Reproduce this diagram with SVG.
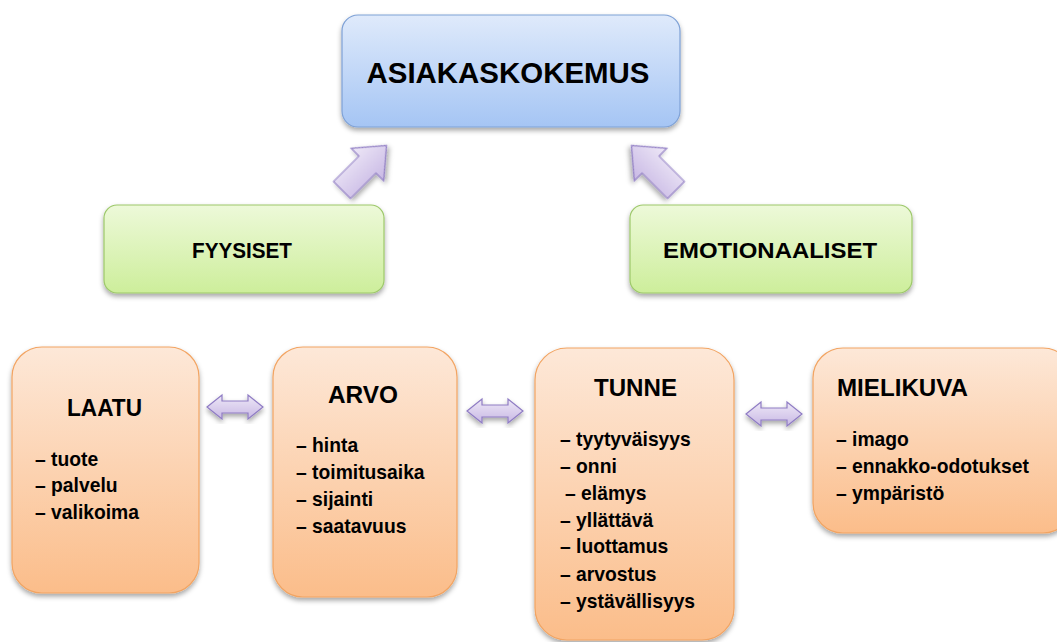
<svg xmlns="http://www.w3.org/2000/svg" width="1057" height="642" viewBox="0 0 1057 642">
<defs>
<linearGradient id="gBlue" x1="0" y1="0" x2="0" y2="1"><stop offset="0" stop-color="#dfeafb"/><stop offset="1" stop-color="#a5c5f4"/></linearGradient>
<linearGradient id="gGreen" x1="0" y1="0" x2="0" y2="1"><stop offset="0" stop-color="#edf9d9"/><stop offset="1" stop-color="#cdee9b"/></linearGradient>
<linearGradient id="gOrange" x1="0" y1="0" x2="0" y2="1"><stop offset="0" stop-color="#fde8d8"/><stop offset="1" stop-color="#fbbd8a"/></linearGradient>
<linearGradient id="gPurple" x1="0" y1="0" x2="0" y2="1"><stop offset="0" stop-color="#eee8f7"/><stop offset="1" stop-color="#c8b8e4"/></linearGradient>
<filter id="sh" x="-10%" y="-10%" width="120%" height="130%"><feDropShadow dx="0" dy="3" stdDeviation="2.5" flood-color="#000" flood-opacity="0.35"/></filter>
<path id="dbl" d="M0,0 L15,-12 L15,-6 L41,-6 L41,-12 L56,0 L41,12 L41,6 L15,6 L15,12 Z"/>
<path id="up" d="M0,-12 L36,-12 L36,-23 L63,0 L36,23 L36,12 L0,12 Z"/>
</defs>
<style>
.blue{fill:url(#gBlue);stroke:#7ea1d6;stroke-width:1.2}
.green{fill:url(#gGreen);stroke:#9dc86a;stroke-width:1.2}
.orange{fill:url(#gOrange);stroke:#f2a462;stroke-width:1.2}
.arr{fill:url(#gPurple);stroke:#8f7cc4;stroke-width:1.2}
text{font-family:"Liberation Sans",Arial,sans-serif;font-weight:bold;fill:#000}
.h1{font-size:29.5px;text-anchor:middle}
.h2{font-size:22px;text-anchor:middle}
.h3{font-size:23.5px;text-anchor:middle}
.it{font-size:19.3px}
</style>
<g id="connectors">
<use href="#up" class="arr" filter="url(#sh)" transform="translate(342,190) rotate(-45)"/>
<use href="#up" class="arr" filter="url(#sh)" transform="translate(676,190) rotate(-135) scale(1,-1)"/>
<use href="#dbl" class="arr" filter="url(#sh)" transform="translate(207,407)"/>
<use href="#dbl" class="arr" filter="url(#sh)" transform="translate(467,411)"/>
<use href="#dbl" class="arr" filter="url(#sh)" transform="translate(746,414)"/>
</g>
<g id="asiakaskokemus">
<rect x="342" y="15" width="338" height="112" rx="16" class="blue" filter="url(#sh)"/>
<text x="508" y="83" class="h1" textLength="283" lengthAdjust="spacingAndGlyphs">ASIAKASKOKEMUS</text>
</g>
<g id="fyysiset">
<rect x="104" y="205" width="280" height="88" rx="13" class="green" filter="url(#sh)"/>
<text x="242" y="258" class="h2" textLength="100" lengthAdjust="spacingAndGlyphs">FYYSISET</text>
</g>
<g id="emotionaaliset">
<rect x="630" y="205" width="282" height="88" rx="13" class="green" filter="url(#sh)"/>
<text x="770" y="258" class="h2" textLength="214" lengthAdjust="spacingAndGlyphs">EMOTIONAALISET</text>
</g>
<g id="laatu">
<rect x="12" y="347" width="187" height="246" rx="30" class="orange" filter="url(#sh)"/>
<text x="104.5" y="416" class="h3" textLength="75" lengthAdjust="spacingAndGlyphs">LAATU</text>
<text x="35" y="466" class="it">– tuote</text>
<text x="35" y="492" class="it">– palvelu</text>
<text x="35" y="519" class="it">– valikoima</text>
</g>
<g id="arvo">
<rect x="273" y="347" width="184" height="250" rx="30" class="orange" filter="url(#sh)"/>
<text x="363" y="403" class="h3" textLength="70" lengthAdjust="spacingAndGlyphs">ARVO</text>
<text x="296" y="452" class="it">– hinta</text>
<text x="296" y="479" class="it">– toimitusaika</text>
<text x="296" y="506" class="it">– sijainti</text>
<text x="296" y="533" class="it">– saatavuus</text>
</g>
<g id="tunne">
<rect x="535" y="348" width="199" height="292" rx="32" class="orange" filter="url(#sh)"/>
<text x="635.5" y="396" class="h3" textLength="83" lengthAdjust="spacingAndGlyphs">TUNNE</text>
<text x="560" y="446" class="it">– tyytyväisyys</text>
<text x="560" y="473" class="it">– onni</text>
<text x="565" y="500" class="it">– elämys</text>
<text x="560" y="527" class="it">– yllättävä</text>
<text x="560" y="553" class="it">– luottamus</text>
<text x="560" y="581" class="it">– arvostus</text>
<text x="560" y="608" class="it">– ystävällisyys</text>
</g>
<g id="mielikuva">
<rect x="813" y="348" width="260" height="185" rx="30" class="orange" filter="url(#sh)"/>
<text x="902.5" y="396" class="h3" textLength="131" lengthAdjust="spacingAndGlyphs">MIELIKUVA</text>
<text x="836" y="446" class="it">– imago</text>
<text x="836" y="473" class="it">– ennakko-odotukset</text>
<text x="836" y="500" class="it">– ympäristö</text>
</g>
</svg>
